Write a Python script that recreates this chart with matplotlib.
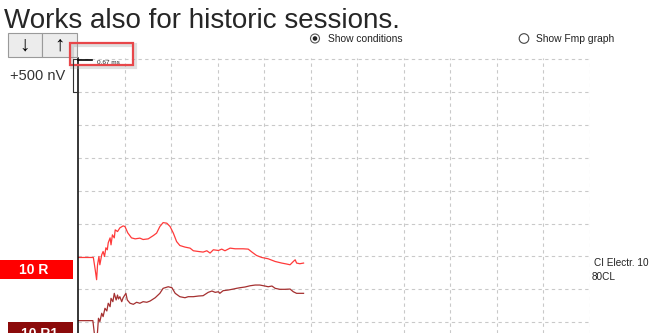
import matplotlib.pyplot as plt
import matplotlib.patches as mpatches
import numpy as np

plt.rcParams['font.family'] = ['Liberation Sans', 'DejaVu Sans']

# recorded traces: time (ms) and amplitude (nV) relative to each baseline
red_t = [0.00, 0.33, 0.37, 0.40, 0.42, 0.45, 0.47, 0.51, 0.54, 0.57, 0.60, 0.63,
         0.65, 0.69, 0.71, 0.74, 0.78, 0.80, 0.85, 0.90, 0.97, 1.01, 1.07, 1.15,
         1.23, 1.33, 1.40, 1.51, 1.62, 1.69, 1.76, 1.83, 1.91, 1.98, 2.05, 2.12,
         2.19, 2.30, 2.41, 2.48, 2.59, 2.69, 2.77, 2.84, 2.91, 3.02, 3.09, 3.16,
         3.27, 3.38, 3.55, 3.66, 3.74, 3.84, 3.95, 4.09, 4.24, 4.38, 4.49, 4.56,
         4.63, 4.67, 4.70, 4.77, 4.85]
red_v = [0, 0, -186, -338, -111, 15, -111, 41, 91, 15, 147, 117,
         223, 298, 192, 344, 298, 420, 394, 450, 480, 470, 374, 298,
         283, 294, 273, 283, 333, 370, 470, 530, 521, 470, 370, 242,
         182, 158, 142, 102, 91, 82, 102, 67, 117, 106, 127, 102,
         142, 132, 132, 127, 82, 30, 0, -20, -61, -85, -100, -111,
         -61, -35, -85, -95, -85]

dark_t = [0.00, 0.32, 0.35, 0.40, 0.44, 0.47, 0.51, 0.54, 0.58, 0.62, 0.65, 0.69,
          0.71, 0.75, 0.78, 0.82, 0.85, 0.87, 0.90, 0.94, 0.97, 1.03, 1.06, 1.12,
          1.19, 1.26, 1.33, 1.40, 1.48, 1.55, 1.66, 1.76, 1.83, 1.94, 2.02, 2.09,
          2.19, 2.30, 2.37, 2.48, 2.59, 2.69, 2.80, 2.88, 2.95, 3.02, 3.05, 3.12,
          3.23, 3.34, 3.41, 3.48, 3.59, 3.70, 3.81, 3.91, 4.02, 4.09, 4.17, 4.24,
          4.34, 4.45, 4.56, 4.63, 4.70, 4.81, 4.85]
dark_v = [0, 0, -186, -368, 36, -15, 112, 61, 188, 147, 264, 212,
          339, 288, 415, 314, 389, 329, 364, 288, 348, 415, 314, 264,
          248, 279, 264, 288, 279, 298, 348, 415, 491, 515, 500, 415,
          364, 348, 364, 364, 374, 379, 430, 450, 430, 439, 415, 455,
          465, 480, 491, 500, 511, 530, 541, 541, 526, 515, 526, 491,
          476, 476, 480, 439, 415, 415, 415]

red_offset = 985
dark_offset = 25
trace_labels = ["10 R", "10 R1"]
condition_text = ["CI Electr. 10", "80CL"]
x_ticks = list(range(1, 12))
y_ticks = list(range(0, 4001, 500))

W, H = 651, 333
fig = plt.figure(figsize=(W / 100, H / 100), dpi=100)

# waveform area, grid of 1 ms x 500 nV
ax = fig.add_axes([78 / W, 0, (589.8 - 78) / W, (333 - 58) / H])
ax.set_facecolor('none')
ax.plot(red_t, np.array(red_v) + red_offset, color='#ff3a3a', lw=0.9)
ax.plot(dark_t, np.array(dark_v) + dark_offset, color='#a53030', lw=0.9)
ax.set_xlim(0, 11.005)
ax.set_ylim(-163, 4017)
ax.set_xticks(x_ticks)
ax.set_yticks(y_ticks)
ax.grid(True, color='#c9c9c9', linestyle=(0, (3, 3)), linewidth=0.8)
ax.tick_params(length=0, labelbottom=False, labelleft=False)
for s in ['top', 'right', 'bottom']:
    ax.spines[s].set_visible(False)
ax.spines['left'].set_linewidth(1.1)
ax.spines['left'].set_color('black')

# screen decorations in pixel coordinates
ui = fig.add_axes([0, 0, 1, 1], zorder=5)
ui.set_xlim(0, W)
ui.set_ylim(H, 0)
ui.axis('off')
ui.patch.set_alpha(0)

ui.text(4, 27.5, "Works also for historic sessions.", fontsize=20,
        va='baseline', color='#262626')

# up / down buttons
ui.add_patch(mpatches.Rectangle((8, 33), 34, 24, fc='#ececec', ec='#9a9a9a', lw=0.8))
ui.add_patch(mpatches.Rectangle((42, 33), 35, 24, fc='#ececec', ec='#9a9a9a', lw=0.8))
ui.text(25, 45.5, "↓", fontsize=15, ha='center', va='center', fontweight='bold')
ui.text(59.5, 45.5, "↑", fontsize=15, ha='center', va='center', fontweight='bold')

ui.text(10, 76, "+500 nV", fontsize=10.5, va='center', color='#333333')

# scale bracket and cursor readout
ui.plot([78, 72.7, 72.7, 78], [59, 59, 91.7, 91.7], color='#333333', lw=0.8)
ui.plot([78, 92], [59.5, 59.5], color='black', lw=1.2)
ui.text(97, 62.5, "0.67 ms", fontsize=4.6, va='center', color='#222222')

# highlight box with soft shadow
ui.add_patch(mpatches.Rectangle((71.5, 44.5), 63, 22, fill=False, ec='#999999',
                                lw=3, alpha=0.3))
ui.add_patch(mpatches.Rectangle((70, 43), 63, 22, fill=False, ec='#e8474a', lw=1.6))

# radio buttons
ui.add_patch(mpatches.Circle((315, 38.5), 4.5, fc='white', ec='#555555', lw=0.8))
ui.add_patch(mpatches.Circle((315, 38.5), 2.3, fc='#222222', ec='none'))
ui.text(328, 38.5, "Show conditions", fontsize=7.4, va='center', color='#222222')
ui.add_patch(mpatches.Circle((524, 38.5), 4.8, fc='white', ec='#444444', lw=0.8))
ui.text(535.5, 38.5, "Show Fmp graph", fontsize=7.4, va='center', color='#222222')

# trace labels
ui.add_patch(mpatches.Rectangle((0, 260), 73, 19, fc='#ff0000', ec='none'))
ui.text(34, 269.5, trace_labels[0], fontsize=10, ha='center', va='center',
        color='white', fontweight='bold')
ui.add_patch(mpatches.Rectangle((8, 322), 65, 20, fc='#8b0a0a', ec='none'))
ui.text(40, 333.5, trace_labels[1], fontsize=10, ha='center', va='center',
        color='white', fontweight='bold')

ui.text(594, 263, condition_text[0], fontsize=7.2, va='center', color='#222222')
ui.text(592, 277, condition_text[1], fontsize=7.2, va='center', color='#222222')

fig.savefig('out.png', dpi=100)
